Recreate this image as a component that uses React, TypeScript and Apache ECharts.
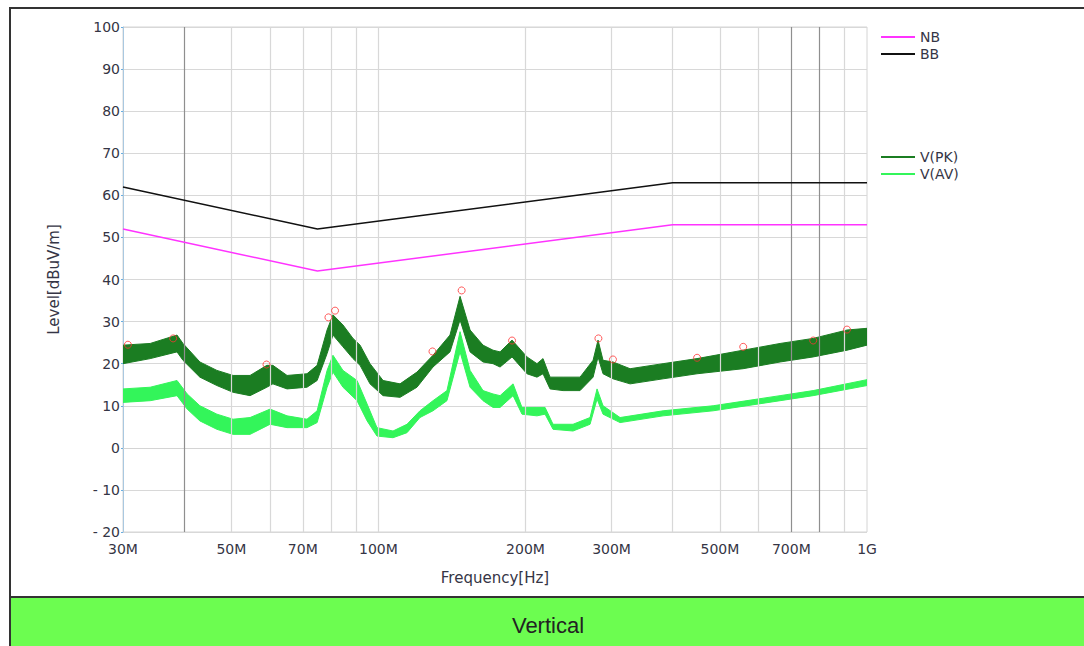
import React, { useEffect, useRef } from "react";
import * as echarts from "echarts";

// ---------- data (frequencies in MHz, levels in dBuV/m) ----------
const xTickValues = [30, 50, 70, 100, 200, 300, 500, 700, 1000];
const gridLightFreqs = [50, 60, 70, 80, 90, 100, 200, 300, 400, 500, 600, 900];
const gridDarkFreqs = [40, 700, 800];

const nbLimit: [number, number][] = [[30, 52], [75, 42], [400, 53], [1000, 53]];
const bbLimit: [number, number][] = [[30, 62], [75, 52], [400, 63], [1000, 63]];

// Peak trace envelope
const pkFreq = [30, 34.1, 38.7, 39.8, 43.1, 46.7, 50.4, 54.6, 59.1, 60.8, 65.0, 71.4, 74.9, 78.5, 80.7, 84.6, 88.7, 91.7, 96.1, 102.2, 110.7, 119.9, 129.3, 140.1, 146.9, 154.0, 163.7, 171.6, 177.4, 187.7, 201.4, 211.1, 217.2, 224.5, 238.7, 258.6, 275.0, 281.5, 288.2, 302.1, 327.4, 382.5, 448.8, 557.6, 663.9, 775.7, 910.3, 1000];
const pkHigh = [24.4, 24.8, 26.8, 24.8, 20.4, 18.4, 17.2, 17.2, 19.6, 19.6, 17.2, 17.6, 19.6, 28.0, 31.6, 29.2, 26.0, 24.4, 20.0, 16.0, 15.2, 18.0, 22.0, 26.8, 36.0, 28.0, 24.4, 23.2, 22.8, 25.6, 21.6, 20.0, 21.2, 16.8, 16.8, 16.8, 20.8, 25.6, 20.8, 20.4, 18.8, 20.0, 21.2, 23.2, 24.8, 26.0, 28.0, 28.4];
const pkLow = [20.0, 21.2, 22.8, 20.8, 16.8, 14.8, 13.2, 12.4, 14.4, 15.2, 14.0, 14.4, 16.0, 22.4, 26.8, 24.0, 21.2, 19.6, 15.2, 12.4, 12.0, 14.4, 19.2, 22.8, 30.4, 22.8, 20.4, 20.0, 19.2, 21.6, 17.6, 16.8, 17.6, 14.0, 13.6, 13.6, 16.8, 21.6, 17.6, 16.4, 15.2, 16.4, 17.6, 18.8, 20.4, 21.6, 23.2, 24.4];

// Average trace envelope
const avFreq = [30, 34.1, 38.7, 40.6, 43.1, 46.7, 50.4, 54.6, 60.0, 65.0, 71.4, 74.9, 78.5, 80.7, 84.6, 90.4, 94.8, 99.3, 107.1, 114.4, 121.6, 129.3, 138.1, 146.9, 154.0, 163.7, 171.6, 177.4, 188.6, 196.7, 211.1, 219.3, 227.7, 250.2, 271.1, 280.2, 288.2, 312.3, 382.5, 484.2, 663.9, 775.7, 1000];
const avHigh = [14.0, 14.4, 16.0, 12.8, 10.0, 8.0, 6.8, 7.2, 9.2, 7.6, 6.8, 8.8, 18.4, 22.0, 18.4, 16.0, 10.4, 4.8, 4.0, 5.6, 8.8, 11.2, 13.6, 27.6, 18.4, 13.6, 12.8, 12.4, 15.2, 9.6, 9.6, 9.6, 5.6, 5.6, 7.2, 14.0, 10.0, 7.2, 8.8, 10.0, 12.4, 13.6, 16.2];
const avLow = [10.8, 11.2, 12.4, 9.2, 6.4, 4.4, 3.2, 3.2, 5.6, 4.8, 4.8, 6.0, 14.4, 18.0, 14.4, 11.2, 6.4, 2.8, 2.4, 3.6, 7.2, 8.8, 11.2, 22.8, 14.4, 11.2, 9.6, 9.6, 12.4, 8.0, 7.6, 8.0, 4.4, 4.0, 5.6, 11.6, 8.0, 6.0, 7.6, 8.8, 11.2, 12.4, 14.8];

// Marked peaks
const peakFreq = [30.7, 38.0, 59.0, 79.0, 81.5, 129.0, 148.0, 187.7, 282.0, 302.0, 449.0, 558.0, 776.0, 910.0];
const peakLevel = [24.5, 26.0, 19.8, 31.0, 32.6, 22.9, 37.4, 25.5, 26.0, 21.0, 21.4, 24.0, 25.5, 28.1];

const xLabelText = (v: number) => (v >= 1000 ? "1G" : `${v}M`);

function bandSeries(name: string, freq: number[], hi: number[], lo: number[], color: string) {
  const data = freq.map((f, i) => [f, hi[i], lo[i]]);
  return {
    name,
    type: "custom",
    clip: true,
    itemStyle: { color },
    encode: { x: 0, y: [1, 2] },
    data,
    renderItem: (params: any, api: any) => {
      if (params.dataIndex !== 0) return null;
      const top = freq.map((f, i) => api.coord([f, hi[i]]));
      const bot = freq.map((f, i) => api.coord([f, lo[i]])).reverse();
      return {
        type: "polygon",
        shape: { points: top.concat(bot) },
        style: { fill: color, stroke: color, lineWidth: 1 },
      };
    },
  };
}

export default function App() {
  const ref = useRef<HTMLDivElement>(null);
  useEffect(() => {
    if (!ref.current) return;
    const chart = echarts.init(ref.current, undefined, { renderer: "svg" });
    const font = "DejaVu Sans";
    const txt = "#353545";
    const option: any = {
      animation: false,
      backgroundColor: "#ffffff",
      textStyle: { fontFamily: font },
      grid: { left: 123, right: 217, top: 27, bottom: 114, show: true, borderColor: "#d4d4d4", borderWidth: 1 },
      legend: [
        {
          data: ["NB", "BB"],
          orient: "vertical",
          left: 876,
          top: 25,
          icon: "rect",
          itemWidth: 34,
          itemHeight: 2,
          itemGap: 3,
          textStyle: { fontFamily: font, fontSize: 14, color: txt },
        },
        {
          data: ["V(PK)", "V(AV)"],
          orient: "vertical",
          left: 876,
          top: 145,
          icon: "rect",
          itemWidth: 34,
          itemHeight: 2,
          itemGap: 3,
          textStyle: { fontFamily: font, fontSize: 14, color: txt },
        },
      ],
      xAxis: {
        type: "log",
        logBase: 10,
        min: 30,
        max: 1000,
        name: "Frequency[Hz]",
        nameLocation: "middle",
        nameGap: 38,
        nameTextStyle: { fontFamily: font, fontSize: 15, color: txt },
        axisLine: { show: true, lineStyle: { color: "#d4d4d4" } },
        axisTick: { show: false },
        splitLine: { show: false },
        minorSplitLine: { show: false },
        axisLabel: {
          customValues: xTickValues,
          formatter: (v: number) => xLabelText(Math.round(v)),
          fontFamily: font,
          fontSize: 14,
          color: txt,
          margin: 10,
          showMinLabel: true,
          showMaxLabel: true,
        },
      },
      yAxis: {
        type: "value",
        min: -20,
        max: 100,
        interval: 10,
        name: "Level[dBuV/m]",
        nameLocation: "middle",
        nameGap: 62,
        nameTextStyle: { fontFamily: font, fontSize: 15, color: txt },
        axisLine: { show: true, lineStyle: { color: "#a9c8e0" } },
        axisTick: { show: true, length: 2, lineStyle: { color: "#6aaee0" } },
        splitLine: { show: true, lineStyle: { color: "#d8d8d8", width: 1 } },
        axisLabel: {
          fontFamily: font,
          fontSize: 14,
          color: txt,
          margin: 3,
          formatter: (v: number) => (v < 0 ? `- ${-v}` : `${v}`),
        },
      },
      graphic: [
        { type: "rect", shape: { x: 10, y: 8, width: 1090, height: 660 }, style: { fill: "none", stroke: "#333333", lineWidth: 2 }, z: 100 },
        { type: "rect", shape: { x: 10, y: 597, width: 1090, height: 60 }, style: { fill: "#6cfd50", stroke: "#333333", lineWidth: 2 }, z: 100 },
        { type: "text", x: 548, y: 625, style: { text: "Vertical", fill: "#222222", font: "22px 'Liberation Sans'", align: "center", verticalAlign: "middle" }, z: 101 },
      ],
      series: [
        {
          name: "gridlines",
          type: "line",
          data: [],
          silent: true,
          markLine: {
            silent: true,
            symbol: "none",
            label: { show: false },
            animation: false,
            data: [
              ...gridLightFreqs.map((f) => ({ xAxis: f, lineStyle: { color: "#d8d8d8", width: 1.2, type: "solid" } })),
              ...gridDarkFreqs.map((f) => ({ xAxis: f, lineStyle: { color: "#8f8f8f", width: 1.2, type: "solid" } })),
            ],
          },
          z: 1,
        },
        bandSeries("V(AV)", avFreq, avHigh, avLow, "#33f55a"),
        bandSeries("V(PK)", pkFreq, pkHigh, pkLow, "#1b7d22"),
        {
          name: "NB",
          type: "line",
          data: nbLimit,
          symbol: "none",
          lineStyle: { color: "#ff33ff", width: 1.5 },
          itemStyle: { color: "#ff33ff" },
          z: 5,
        },
        {
          name: "BB",
          type: "line",
          data: bbLimit,
          symbol: "none",
          lineStyle: { color: "#111111", width: 1.5 },
          itemStyle: { color: "#111111" },
          z: 5,
        },
        {
          name: "peaks",
          type: "scatter",
          data: peakFreq.map((f, i) => [f, peakLevel[i]]),
          symbol: "circle",
          symbolSize: 7,
          itemStyle: { color: "rgba(0,0,0,0)", borderColor: "#ff3333", borderWidth: 1 },
          z: 6,
        },
      ],
    };
    chart.setOption(option);
    return () => chart.dispose();
  }, []);
  return <div ref={ref} style={{ position: "fixed", left: 0, top: 0, width: 1084, height: 646 }} />;
}
